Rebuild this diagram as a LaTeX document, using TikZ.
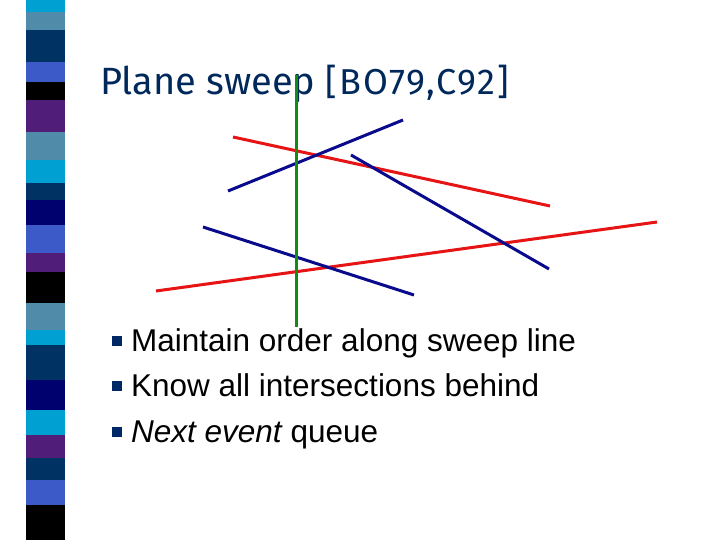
\documentclass[tikz,border=0pt]{standalone}
\usepackage{fontspec}
\setmainfont{Liberation Sans}
\newfontfamily\titlefont{Fira Sans}
\begin{document}
\begin{tikzpicture}[x=1pt,y=-1pt,
  red/.style={draw={rgb,255:red,230;green,20;blue,20},line width=3pt},
  blu/.style={draw={rgb,255:red,10;green,10;blue,140},line width=3pt},
  bul/.style={fill={rgb,255:red,0;green,40;blue,100},minimum size=10.5pt,inner sep=0pt},
  txt/.style={anchor=base west,inner sep=0pt,font=\fontsize{31.5}{34}\selectfont}]
\useasboundingbox (0,0) rectangle (720,540);
\definecolor{cA}{RGB}{0,160,210}\definecolor{cB}{RGB}{80,140,170}
\definecolor{cC}{RGB}{0,50,100}\definecolor{cD}{RGB}{60,90,200}
\definecolor{cE}{RGB}{0,0,0}\definecolor{cF}{RGB}{80,30,120}
\definecolor{cG}{RGB}{0,0,110}
\foreach \a/\b/\c in {0/12/cA,12/30/cB,30/62/cC,62/82/cD,82/100/cE,100/132/cF,132/160/cB,160/183/cA,183/200/cC,200/225/cG,225/253/cD,253/272/cF,272/303/cE,303/330/cB,330/345/cA,345/380/cC,380/410/cG,410/435/cA,435/458/cF,458/480/cC,480/505/cD,505/540/cE}
  \fill[\c] (26,\a) rectangle (65,\b);
\node[anchor=base west,inner sep=0pt,text={rgb,255:red,0;green,40;blue,90}] (title) at (100,95)
  {\titlefont\fontsize{38}{40}\selectfont Plane sweep\hspace{10pt}\fontsize{36}{38}\selectfont\addfontfeature{LetterSpace=6}[BO79,C92]};
\coordinate (r1a) at (233,137); \coordinate (r1b) at (550,206);
\coordinate (r2a) at (156,291); \coordinate (r2b) at (657,222);
\coordinate (b1a) at (228,191); \coordinate (b1b) at (403,120);
\coordinate (b2a) at (351,155); \coordinate (b2b) at (549,269);
\coordinate (b3a) at (203,227); \coordinate (b3b) at (414,295);
\coordinate (ga) at (296,75); \coordinate (gb) at (296,327);
\draw[red] (r1a) -- (r1b);
\draw[red] (r2a) -- (r2b);
\draw[blu] (b1a) -- (b1b);
\draw[blu] (b2a) -- (b2b);
\draw[blu] (b3a) -- (b3b);
\draw[draw={rgb,255:red,20;green,140;blue,20},line width=3pt] (ga) -- (gb);
\node[bul] (s1) at (117,341) {};
\node[bul] (s2) at (117,386) {};
\node[bul] (s3) at (117,432) {};
\node[txt] (t1) at (131,351) {Maintain order along sweep line};
\node[txt] (t2) at (131,396) {Know all intersections behind};
\node[txt] (t3) at (131,442) {\itshape Next event\upshape{} queue};
\end{tikzpicture}
\end{document}
